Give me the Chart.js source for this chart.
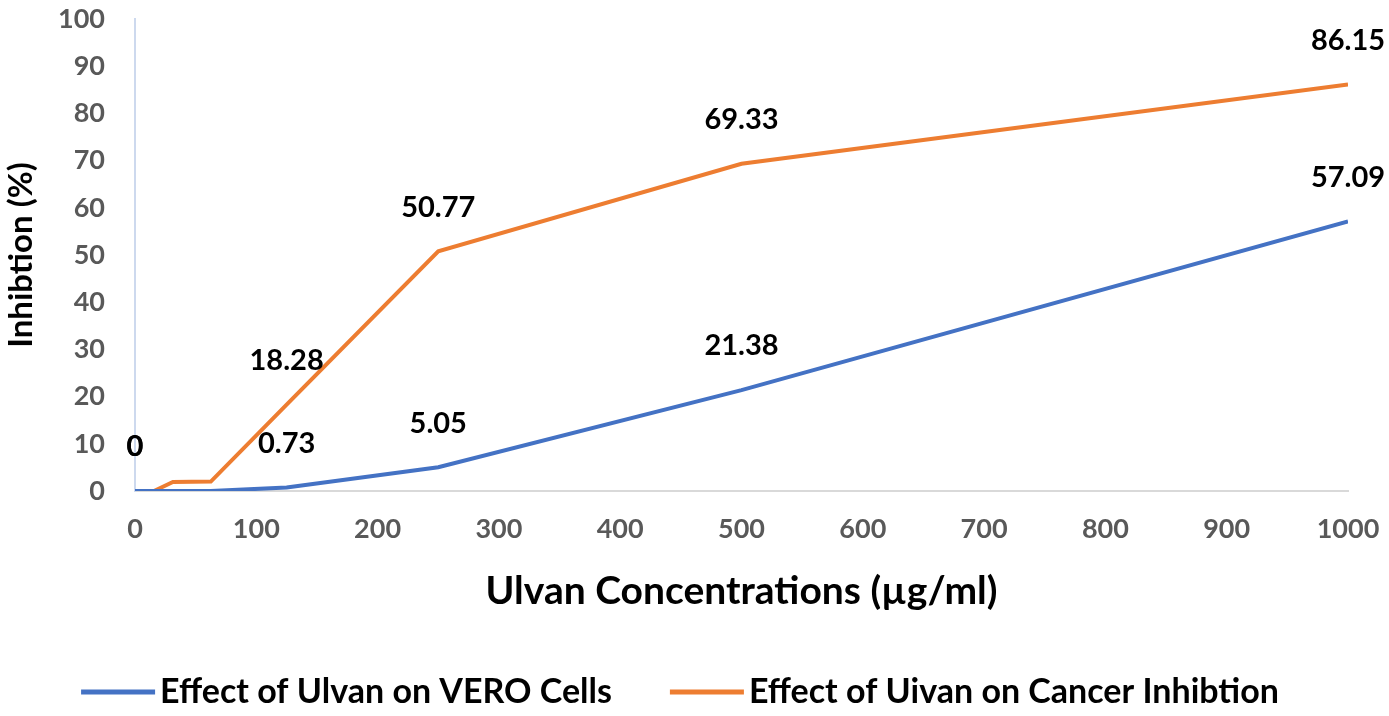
<!DOCTYPE html>
<html>
<head>
<meta charset="utf-8">
<script src="https://cdn.jsdelivr.net/npm/chart.js@4"></script>
<style>
html,body{margin:0;padding:0;background:#fff;}
#wrap{width:1389px;height:716px;}
</style>
</head>
<body>
<div id="wrap"><canvas id="c" width="1389" height="716"></canvas></div>
<script>
const concentrations = [0, 15.625, 31.25, 62.5, 125, 250, 500, 1000];
const veroValues = [0, 0, 0, 0, 0.73, 5.05, 21.38, 57.09];
const cancerValues = [0, 0, 1.9, 2.0, 18.28, 50.77, 69.33, 86.15];
const veroLabels = ["0", null, null, null, "0.73", "5.05", "21.38", "57.09"];
const cancerLabels = ["0", null, null, null, "18.28", "50.77", "69.33", "86.15"];
const seriesNames = ["Effect of Ulvan on VERO Cells", "Effect of Uivan on Cancer Inhibtion"];
const xTitle = "Ulvan Concentrations (µg/ml)";
const yTitle = "Inhibtion (%)";

const FONT = "Lato, 'Noto Sans', sans-serif";

const labelPlugin = {
  id: 'pointLabels',
  afterDatasetsDraw(chart) {
    const ctx = chart.ctx;
    const lists = [veroLabels, cancerLabels];
    ctx.save();
    ctx.font = "bold 29px " + FONT;
    ctx.fillStyle = "#000";
    ctx.textAlign = "center";
    ctx.textBaseline = "middle";
    chart.data.datasets.forEach((ds, di) => {
      const meta = chart.getDatasetMeta(di);
      meta.data.forEach((pt, i) => {
        const t = lists[di][i];
        if (t !== null) ctx.fillText(t, pt.x, pt.y - 44);
      });
    });
    ctx.restore();
  }
};

const legendPlugin = {
  id: 'customLegend',
  afterDraw(chart) {
    const ctx = chart.ctx;
    const ds = chart.data.datasets;
    const lineW = 74, gapText = 5, gapItem = 58, cy = 692;
    ctx.save();
    ctx.font = "bold 34px " + FONT;
    ctx.textBaseline = "middle";
    ctx.textAlign = "left";
    const widths = ds.map(d => lineW + gapText + ctx.measureText(d.label).width);
    const total = widths.reduce((a, b) => a + b, 0) + gapItem * (ds.length - 1);
    let x = 680 - total / 2;
    ds.forEach((d, i) => {
      ctx.strokeStyle = d.borderColor;
      ctx.lineWidth = 5;
      ctx.beginPath();
      ctx.moveTo(x, cy);
      ctx.lineTo(x + lineW, cy);
      ctx.stroke();
      ctx.fillStyle = "#000";
      ctx.fillText(d.label, x + lineW + gapText, cy);
      x += widths[i] + gapItem;
    });
    ctx.restore();
  }
};

new Chart(document.getElementById('c'), {
  type: 'line',
  data: {
    datasets: [
      {
        label: seriesNames[0],
        data: concentrations.map((x, i) => ({x: x, y: veroValues[i]})),
        borderColor: '#4472C4',
        backgroundColor: '#4472C4',
        borderWidth: 4,
        pointRadius: 0,
        tension: 0
      },
      {
        label: seriesNames[1],
        data: concentrations.map((x, i) => ({x: x, y: cancerValues[i]})),
        borderColor: '#ED7D31',
        backgroundColor: '#ED7D31',
        borderWidth: 4,
        pointRadius: 0,
        tension: 0
      }
    ]
  },
  options: {
    responsive: false,
    animation: false,
    layout: { padding: { top: 19, right: 41, left: 0, bottom: 0 } },
    plugins: {
      tooltip: { enabled: false },
      legend: { display: false }
    },
    scales: {
      x: {
        type: 'linear',
        min: 0, max: 1000,
        afterFit(s) { s.height = 225; s.paddingLeft = 0; s.paddingRight = 0; },
        ticks: {
          stepSize: 100,
          padding: 22,
          color: '#595959',
          font: { family: FONT, size: 27, weight: 'bold' },
          callback: (v) => String(v)
        },
        grid: { display: false, drawTicks: false },
        border: { display: true, color: '#d9d9d9', width: 2 },
        title: {
          display: true,
          text: xTitle,
          color: '#000',
          font: { family: FONT, size: 39, weight: 'bold' },
          padding: { top: 0, bottom: 101 }
        }
      },
      y: {
        min: 0, max: 100,
        afterFit(s) { s.width = 135; s.paddingTop = 0; s.paddingBottom = 0; },
        ticks: {
          stepSize: 10,
          padding: 30,
          color: '#595959',
          font: { family: FONT, size: 27, weight: 'bold' }
        },
        grid: { display: false, drawTicks: false },
        border: { display: true, color: '#cdd9ee', width: 2 },
        title: {
          display: true,
          text: yTitle,
          color: '#000',
          font: { family: FONT, size: 33, weight: 'bold' },
          padding: { top: 2, bottom: 0 }
        }
      }
    }
  },
  plugins: [labelPlugin, legendPlugin]
});
</script>
</body>
</html>
